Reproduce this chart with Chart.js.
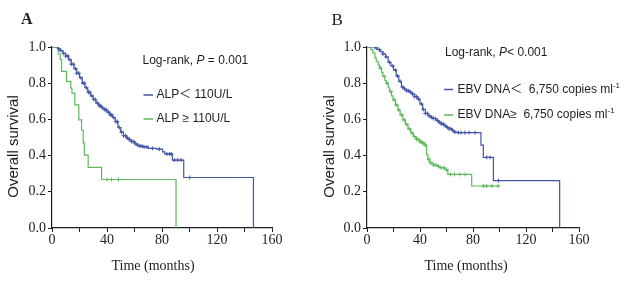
<!DOCTYPE html>
<html><head><meta charset="utf-8">
<script src="https://cdn.jsdelivr.net/npm/chart.js@4.4.1/dist/chart.umd.min.js"></script>
<style>
html,body{margin:0;padding:0;background:#fff;}
#wrap{position:relative;width:631px;height:281px;overflow:hidden;background:#fff;}
canvas{position:absolute;left:0;top:0;}
</style></head><body>
<div id="wrap"><canvas id="ca" width="631" height="281"></canvas><canvas id="cb" width="631" height="281"></canvas></div>
<script>
// ---------- tick labels ----------
const monthLabels = [0, 40, 80, 120, 160];
const survLabels = [0.0, 0.2, 0.4, 0.6, 0.8, 1.0];

// ---------- Panel A : ALP ----------
const alpLowTime = [0, 4, 6, 8, 10, 12, 14, 16, 18, 20, 22, 24, 26, 28, 30, 32, 34, 36, 38, 40, 42, 44, 46, 48, 50, 52, 54, 56, 58, 60, 62, 64, 66, 70, 76, 80.5, 82, 87.5, 95.8, 146.5];
const alpLowSurv = [1, 0.99, 0.98, 0.965, 0.95, 0.93, 0.905, 0.88, 0.855, 0.83, 0.80, 0.775, 0.75, 0.73, 0.71, 0.69, 0.675, 0.663, 0.653, 0.64, 0.625, 0.61, 0.588, 0.555, 0.53, 0.51, 0.497, 0.487, 0.477, 0.465, 0.457, 0.452, 0.448, 0.44, 0.436, 0.421, 0.409, 0.375, 0.279, 0];
const alpLowCensor = [5, 6.5, 8.5, 10, 11.5, 13, 14, 15.5, 17, 18, 19.5, 21, 22.5, 23.5, 25, 26.5, 27.5, 29, 30.5, 31.5, 33, 34.5, 35.5, 37, 38.5, 39.5, 41, 42.5, 43.5, 45, 46.5, 47.5, 49, 50.5, 52, 53.5, 55, 56.5, 58, 59.5, 61, 62.5, 64, 65.5, 67, 69, 73, 78, 83.6, 85.6, 86.8, 89, 91.4, 93.9, 100.2];
const alpHighTime = [0, 4.5, 6, 7, 10.5, 13.7, 14.5, 16.6, 19.5, 21.5, 22.7, 23.5, 26.3, 36.1, 90.2];
const alpHighSurv = [1, 0.96, 0.93, 0.865, 0.81, 0.773, 0.745, 0.68, 0.597, 0.54, 0.47, 0.403, 0.335, 0.268, 0];
const alpHighCensor = [40, 43.3, 48.3];

// ---------- Panel B : EBV DNA ----------
const ebvLowTime = [0, 5.7, 8, 10, 12, 14, 16, 18, 20, 22, 24, 26, 28, 30, 32, 34, 36, 38, 40, 42, 44, 46, 48, 50, 52, 54, 56, 58, 60, 62, 64, 66, 68, 86, 87.8, 95.4, 145.4];
const ebvLowSurv = [1, 0.995, 0.985, 0.975, 0.962, 0.945, 0.915, 0.895, 0.872, 0.84, 0.81, 0.778, 0.768, 0.758, 0.75, 0.74, 0.726, 0.712, 0.685, 0.655, 0.633, 0.62, 0.612, 0.605, 0.595, 0.585, 0.575, 0.565, 0.556, 0.548, 0.538, 0.53, 0.527, 0.458, 0.39, 0.262, 0];
const ebvLowCensor = [7, 9.5, 12, 14.5, 17, 19.5, 21.5, 23, 25, 27, 28.5, 30, 31.5, 33, 34.5, 36, 37.5, 39, 41, 42.5, 44, 45.5, 47, 48.5, 50, 51.5, 53, 54.5, 56, 57.5, 59, 60.5, 62, 63.5, 65, 66.3, 69, 71, 73.9, 77, 81.5, 90.4, 92.9, 99.2];
const ebvHighTime = [0, 3, 4.4, 6, 7, 8.5, 9.5, 11, 12, 13.5, 14.6, 16, 17.1, 18.5, 19.6, 21.5, 23.4, 25, 27.1, 29, 30.9, 33, 35, 37, 39.8, 41.5, 43.6, 44.9, 46, 47.4, 50, 53, 55, 58.8, 61, 79, 99.2];
const ebvHighSurv = [1, 0.985, 0.967, 0.94, 0.92, 0.9, 0.884, 0.86, 0.837, 0.815, 0.8, 0.775, 0.754, 0.73, 0.708, 0.68, 0.652, 0.625, 0.597, 0.572, 0.548, 0.525, 0.505, 0.49, 0.477, 0.468, 0.458, 0.405, 0.38, 0.36, 0.348, 0.34, 0.333, 0.322, 0.296, 0.232, 0.232];
const ebvHighCensor = [10, 13, 15, 18, 20.5, 22, 24, 26, 28, 30, 32, 34, 36, 37.5, 38.5, 40, 41, 42, 43, 44, 46.5, 48, 50, 52, 54, 56, 58, 60, 63, 66, 70, 74, 87.8, 90.4, 94.2, 99];

// ---------- styling ----------
const BLUE = '#4356a8';
const GREEN = '#5dba5d';
const INK = '#1e1e1e';
const SANS = '"Liberation Sans", Arial, "Noto Sans CJK SC", sans-serif';
const SERIF = '"Liberation Serif", "Times New Roman", serif';

function kmPoints(t, s) { return t.map((v, i) => ({x: v, y: s[i]})); }
function survAt(t, s, x) { let v = s[0]; for (let i = 0; i < t.length; i++) if (t[i] <= x) v = s[i]; return v; }
function censorPoints(t, s, c) { return c.map(x => ({x: x, y: survAt(t, s, x)})); }

function kmSet(t, s, color) {
  return {data: kmPoints(t, s), borderColor: color, borderWidth: 1.2, stepped: true, pointRadius: 0, fill: false, order: 2};
}
function censorSet(t, s, c, color) {
  return {data: censorPoints(t, s, c), showLine: false, pointStyle: 'cross', pointRadius: 2, pointBorderWidth: 1, borderColor: color, backgroundColor: color, order: 1};
}

function drawParts(ctx, parts, x, y) {
  ctx.textAlign = 'left';
  ctx.textBaseline = 'middle';
  let cx = x;
  for (const p of parts) {
    ctx.font = p.font;
    const dy = p.dy || 0;
    ctx.fillText(p.text, cx, y + dy);
    cx += ctx.measureText(p.text).width;
  }
}

const textPlugin = {
  id: 'panelText',
  afterDraw(chart, args, o) {
    const ctx = chart.ctx;
    ctx.save();
    ctx.fillStyle = INK;
    ctx.font = o.letterFont;
    ctx.textAlign = 'left'; ctx.textBaseline = 'alphabetic';
    ctx.fillText(o.letter, o.letterX, o.letterY);
    drawParts(ctx, o.logRank, o.logX, o.logY);
    o.legend.forEach(l => {
      ctx.strokeStyle = l.color; ctx.lineWidth = 1.5;
      ctx.beginPath(); ctx.moveTo(o.legX1, l.y); ctx.lineTo(o.legX2, l.y); ctx.stroke();
      ctx.fillStyle = INK;
      drawParts(ctx, l.parts, o.legTextX, l.y);
    });
    ctx.font = '15px ' + SANS;
    ctx.textAlign = 'center'; ctx.textBaseline = 'middle';
    ctx.save(); ctx.translate(o.yTitleX, o.yTitleY); ctx.rotate(-Math.PI / 2);
    ctx.fillText('Overall survival', 0, 0); ctx.restore();
    ctx.font = '14px ' + SERIF;
    ctx.fillText('Time (months)', o.xTitleX, o.xTitleY);
    ctx.restore();
  }
};

function makeChart(id, area, datasets, text) {
  return new Chart(document.getElementById(id), {
    type: 'line',
    data: {datasets: datasets},
    plugins: [textPlugin],
    options: {
      responsive: false, animation: false, devicePixelRatio: 1,
      layout: {padding: {left: area.left - 52, right: 631 - area.right, top: area.top, bottom: 281 - area.bottom - 30}},
      plugins: {legend: {display: false}, tooltip: {enabled: false}, panelText: text},
      scales: {
        x: {
          type: 'linear', min: 0, max: 160,
          afterFit: s => { s.height = 30; },
          border: {display: true, color: INK, width: 1.2},
          grid: {drawOnChartArea: false, drawTicks: true, tickLength: 4, color: INK, lineWidth: 1},
          ticks: {stepSize: 20, autoSkip: false, maxRotation: 0, padding: 0, color: INK,
            font: {family: SERIF, size: 14},
            callback: v => monthLabels.includes(v) ? String(v) : ''}
        },
        y: {
          type: 'linear', min: 0, max: 1,
          afterFit: s => { s.width = 52; },
          border: {display: true, color: INK, width: 1.2},
          grid: {drawOnChartArea: false, drawTicks: true, tickLength: 4, color: INK, lineWidth: 1},
          ticks: {stepSize: 0.2, padding: 2, color: INK, font: {family: SERIF, size: 14},
            callback: v => { const r = Math.round(v * 10) / 10; return survLabels.includes(r) ? r.toFixed(1) : ''; }}
        }
      }
    }
  });
}

makeChart('ca', {left: 52, right: 272, top: 47, bottom: 228}, [
  kmSet(alpLowTime, alpLowSurv, BLUE),
  kmSet(alpHighTime, alpHighSurv, GREEN),
  censorSet(alpLowTime, alpLowSurv, alpLowCensor, BLUE),
  censorSet(alpHighTime, alpHighSurv, alpHighCensor, GREEN)
], {
  letter: 'A', letterFont: 'bold 16px ' + SERIF, letterX: 21, letterY: 23.5,
  logRank: [{text: 'Log-rank, ', font: '12px ' + SANS}, {text: 'P', font: 'italic 12px ' + SANS}, {text: ' = 0.001', font: '12px ' + SANS}],
  logX: 142.5, logY: 61,
  legX1: 143.5, legX2: 153, legTextX: 156.5,
  legend: [
    {y: 95, color: BLUE, parts: [{text: 'ALP＜ 110U/L', font: '12px ' + SANS}]},
    {y: 119, color: GREEN, parts: [{text: 'ALP ≥ 110U/L', font: '12px ' + SANS}]}
  ],
  yTitleX: 14, yTitleY: 146.5, xTitleX: 153, xTitleY: 266.5
});

makeChart('cb', {left: 367, right: 579, top: 47, bottom: 228}, [
  kmSet(ebvLowTime, ebvLowSurv, BLUE),
  kmSet(ebvHighTime, ebvHighSurv, GREEN),
  censorSet(ebvLowTime, ebvLowSurv, ebvLowCensor, BLUE),
  censorSet(ebvHighTime, ebvHighSurv, ebvHighCensor, GREEN)
], {
  letter: 'B', letterFont: '17px ' + SERIF, letterX: 331.5, letterY: 25,
  logRank: [{text: 'Log-rank, ', font: '12px ' + SANS}, {text: 'P', font: 'italic 12px ' + SANS}, {text: '< 0.001', font: '12px ' + SANS}],
  logX: 445, logY: 53,
  legX1: 444, legX2: 453, legTextX: 457.5,
  legend: [
    {y: 89.5, color: BLUE, parts: [{text: 'EBV DNA＜  6,750 copies ml', font: '12px ' + SANS}, {text: '-1', font: '8px ' + SANS, dy: -4}]},
    {y: 115, color: GREEN, parts: [{text: 'EBV DNA≥  6,750 copies ml', font: '12px ' + SANS}, {text: '-1', font: '8px ' + SANS, dy: -4}]}
  ],
  yTitleX: 330, yTitleY: 146.5, xTitleX: 466, xTitleY: 266.5
});
</script>
</body></html>
